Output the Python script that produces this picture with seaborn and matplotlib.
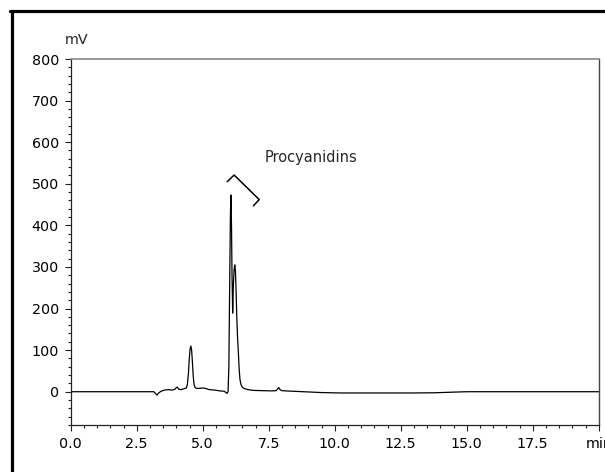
import matplotlib
matplotlib.use("Agg")
import pandas as pd
import seaborn as sns
import matplotlib.pyplot as plt
from matplotlib.lines import Line2D
from matplotlib.ticker import MultipleLocator

# chromatogram trace (retention time in min, signal in mV)
time_min = [0.0, 3.15, 3.22, 3.27, 3.33, 3.42, 3.55, 3.7, 3.85, 3.95,
            4.0, 4.04, 4.09, 4.17, 4.28, 4.38, 4.42, 4.46, 4.49, 4.52,
            4.55, 4.58, 4.61, 4.64, 4.67, 4.71, 4.77, 4.85, 5.0,
            5.1, 5.25, 5.45, 5.65, 5.82, 5.92, 5.96, 5.99, 6.02, 6.05,
            6.07, 6.09, 6.11, 6.135, 6.16, 6.19, 6.215, 6.24, 6.27, 6.29,
            6.32, 6.35, 6.38, 6.41, 6.45, 6.5, 6.56, 6.65, 6.8, 7.0,
            7.3, 7.6, 7.78, 7.84, 7.88, 7.93, 8.0, 8.3, 8.8, 9.5,
            10.2, 11.0, 12.0, 13.0, 13.8, 14.5, 15.0, 16.0, 20.0]
signal_mv = [0, 0, -5, -8, -3, 1, 4, 5, 4, 6,
             10, 11, 6, 5, 7, 9, 18, 45, 78, 102,
             110, 100, 70, 38, 18, 10, 8, 8, 9,
             8, 5, 4, 2, 1, -4, 0, 60, 250, 430,
             473, 400, 280, 189, 255, 295, 305, 290, 230, 180,
             130, 95, 55, 30, 17, 11, 8, 6, 4, 3,
             2.5, 2, 2.5, 7, 10, 5, 2.5, 1.5, 0, -2,
             -3, -3, -3, -3, -2.5, -1, 0, 0, 0]

x_ticks = [0, 2.5, 5, 7.5, 10, 12.5, 15, 17.5, 20]
x_tick_labels = ["0.0", "2.5", "5.0", "7.5", "10.0", "12.5", "15.0", "17.5", "min"]
y_ticks = [0, 100, 200, 300, 400, 500, 600, 700, 800]

# bracket marking the procyanidin peaks
bracket_t = [5.93, 6.19, 7.14, 6.92]
bracket_mv = [505, 521, 462, 447]
label_text = "Procyanidins"
label_t, label_mv = 7.36, 564

sns.set_style("ticks")
plt.rcParams['font.family'] = ['DejaVu Sans']

df = pd.DataFrame({"time": time_min, "signal": signal_mv})

fig = plt.figure(figsize=(6.05, 4.72), dpi=100)
ax = fig.add_axes([0.1169, 0.0996, 0.8727, 0.7754])

sns.lineplot(data=df, x="time", y="signal", ax=ax, color="black",
             linewidth=0.9, estimator=None, sort=False)
ax.plot(bracket_t, bracket_mv, color="black", linewidth=1.1)
ax.text(label_t, label_mv, label_text, fontsize=10.5, va="center", ha="left")

ax.set_xlim(0, 20)
ax.set_ylim(-80, 800)
ax.set_xticks(x_ticks)
ax.set_xticklabels(x_tick_labels)
ax.set_yticks(y_ticks)
ax.xaxis.set_minor_locator(MultipleLocator(0.5))
ax.yaxis.set_minor_locator(MultipleLocator(20))
ax.set_xlabel("")
ax.set_ylabel("")
ax.tick_params(which="major", length=4.5, width=0.8, pad=4, labelsize=10.3,
               color="#222222", labelcolor="black")
ax.tick_params(which="minor", length=2.5, width=0.8, color="#222222")

ax.spines["top"].set_color("#888888")
ax.spines["top"].set_linewidth(1.2)
ax.spines["right"].set_color("#444444")
ax.spines["right"].set_linewidth(1.0)
ax.spines["left"].set_color("#222222")
ax.spines["bottom"].set_color("#222222")
ax.spines["left"].set_linewidth(0.9)
ax.spines["bottom"].set_linewidth(0.9)

fig.text(77 / 605, 1 - 40 / 472, "mV", fontsize=10.3, ha="center", va="center")

# outer frame (left and top edges)
fig.add_artist(Line2D([12 / 605, 12 / 605], [0, 1 - 11 / 472],
                      transform=fig.transFigure, color="black", linewidth=2.3))
fig.add_artist(Line2D([10 / 605, 1], [1 - 11 / 472, 1 - 11 / 472],
                      transform=fig.transFigure, color="black", linewidth=2.3))

fig.savefig("out.png", dpi=100)
